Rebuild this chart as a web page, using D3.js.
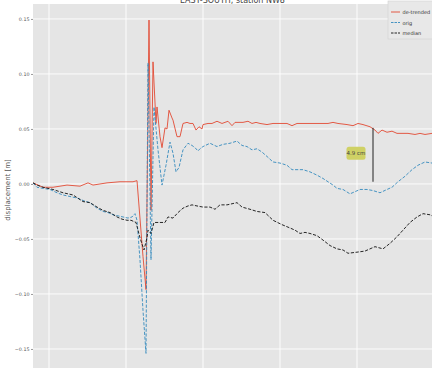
<!DOCTYPE html>
<html>
<head>
<meta charset="utf-8">
<script src="https://cdn.jsdelivr.net/npm/d3@7"></script>
<style>
  body { margin: 0; background: #fff; }
  text { font-family: "DejaVu Sans", sans-serif; }
</style>
</head>
<body>
<div id="chart"></div>
<script>
// sample index vs displacement [m]
var detrended = [
  [0, 0.001], [10, -0.003], [20, -0.003], [34, -0.001], [47, -0.002], [55, 0.001],
  [60, -0.001], [74, 0.001], [87, 0.002], [100, 0.002], [104, 0.003], [110, -0.066],
  [113, -0.096], [116, 0.149], [118, -0.024], [120, 0.111], [123, 0.055], [124, 0.070],
  [127, 0.043], [129, 0.033], [132, 0.051], [134, 0.050], [136, 0.067], [139, 0.060],
  [140, 0.058], [144, 0.043], [147, 0.043], [150, 0.055], [154, 0.056], [157, 0.055],
  [160, 0.055], [163, 0.049], [166, 0.052], [169, 0.050], [170, 0.054], [175, 0.055],
  [179, 0.055], [184, 0.057], [189, 0.055], [195, 0.057], [199, 0.053], [202, 0.056],
  [210, 0.056], [215, 0.057], [219, 0.055], [223, 0.056], [227, 0.055], [234, 0.054],
  [240, 0.055], [245, 0.055], [250, 0.055], [254, 0.055], [259, 0.053], [264, 0.055],
  [270, 0.055], [277, 0.055], [284, 0.055], [290, 0.055], [295, 0.055], [300, 0.056],
  [305, 0.055], [314, 0.054], [320, 0.053], [325, 0.055], [330, 0.054], [337, 0.052],
  [342, 0.049], [345, 0.046], [349, 0.049], [354, 0.047], [359, 0.048], [364, 0.046],
  [370, 0.046], [375, 0.046], [382, 0.045], [387, 0.046], [392, 0.045], [399, 0.046]
];

var orig = [
  [0, 0.001], [4, -0.003], [10, -0.004], [17, -0.005], [24, -0.008], [30, -0.010],
  [35, -0.011], [40, -0.012], [45, -0.013], [50, -0.015], [57, -0.017], [64, -0.022],
  [70, -0.025], [75, -0.026], [80, -0.028], [85, -0.029], [90, -0.030], [95, -0.031],
  [99, -0.030], [102, -0.027], [104, -0.033], [107, -0.069], [110, -0.115], [113, -0.154],
  [115, 0.110], [118, -0.069], [121, 0.070], [125, 0.031], [129, -0.001], [133, 0.017],
  [137, 0.038], [140, 0.028], [143, 0.011], [146, 0.015], [150, 0.031], [155, 0.037],
  [159, 0.035], [162, 0.033], [165, 0.030], [167, 0.032], [170, 0.034], [177, 0.037],
  [184, 0.034], [190, 0.036], [197, 0.037], [204, 0.039], [209, 0.035], [214, 0.034],
  [219, 0.031], [224, 0.032], [229, 0.029], [234, 0.025], [240, 0.020], [247, 0.019],
  [254, 0.017], [259, 0.013], [264, 0.013], [270, 0.013], [277, 0.011], [284, 0.008],
  [290, 0.005], [295, 0.002], [300, -0.001], [304, -0.004], [310, -0.005], [317, -0.009],
  [322, -0.007], [327, -0.005], [334, -0.005], [340, -0.006], [347, -0.008], [354, -0.005],
  [359, -0.003], [365, 0.002], [372, 0.007], [379, 0.013], [385, 0.017], [392, 0.020],
  [399, 0.019]
];

var median = [
  [0, 0.001], [4, -0.001], [10, -0.003], [20, -0.005], [30, -0.008], [40, -0.010],
  [45, -0.013], [50, -0.016], [57, -0.017], [64, -0.021], [70, -0.024], [77, -0.026],
  [84, -0.030], [89, -0.032], [94, -0.033], [98, -0.033], [103, -0.035], [107, -0.049],
  [111, -0.060], [114, -0.049], [115, -0.042], [118, -0.045], [121, -0.035], [127, -0.035],
  [132, -0.035], [135, -0.030], [140, -0.031], [145, -0.026], [150, -0.022], [155, -0.020],
  [159, -0.019], [164, -0.020], [170, -0.021], [177, -0.021], [182, -0.023], [187, -0.019],
  [194, -0.019], [199, -0.018], [204, -0.017], [209, -0.021], [217, -0.023], [224, -0.025],
  [232, -0.026], [240, -0.033], [249, -0.037], [257, -0.040], [262, -0.042], [267, -0.045],
  [272, -0.044], [277, -0.045], [284, -0.047], [290, -0.051], [297, -0.056], [304, -0.059],
  [310, -0.060], [315, -0.063], [324, -0.062], [332, -0.061], [337, -0.059], [342, -0.057],
  [350, -0.059], [357, -0.054], [364, -0.048], [370, -0.042], [377, -0.035], [384, -0.030],
  [390, -0.027], [397, -0.028], [399, -0.029]
];

var seriesNames = ["de-trended", "orig", "median"];
var yTicks = [-0.15, -0.10, -0.05, 0.00, 0.05, 0.10, 0.15];
var xTicks = [16, 93, 170, 247, 324];

// offset annotation between the two curves
var annot = { x: 340, top: 0.051, bottom: 0.002, labelX: 323, labelY: 0.028, text: "4.9 cm" };

var width = 432, height = 368;
var margins = { top: 4, right: 0, bottom: 0, left: 33 };
var colours = ["#E24A33", "#348ABD", "#111111"];
var dashes = [null, "3.2,1.6", "3.2,1.6"];

var svg = d3.select("#chart").append("svg")
  .attr("width", width)
  .attr("height", height);

var scaleX = d3.scaleLinear().domain([0, 400]).range([margins.left, 433]);
var scaleY = d3.scaleLinear().domain([-0.1673, 0.1636]).range([368, 4]);

// background
svg.append("rect")
  .attr("x", margins.left)
  .attr("y", margins.top)
  .attr("width", width - margins.left)
  .attr("height", height - margins.top)
  .attr("fill", "#E5E5E5");

svg.append("defs").append("clipPath").attr("id", "clip")
  .append("rect")
  .attr("x", margins.left)
  .attr("y", margins.top)
  .attr("width", width - margins.left)
  .attr("height", height - margins.top);

// grid
svg.append("g").selectAll("line.hgrid")
  .data(yTicks).enter().append("line")
  .attr("x1", margins.left).attr("x2", width)
  .attr("y1", function (d) { return scaleY(d); })
  .attr("y2", function (d) { return scaleY(d); })
  .attr("stroke", "#fff").attr("stroke-width", 0.9);

svg.append("g").selectAll("line.vgrid")
  .data(xTicks).enter().append("line")
  .attr("y1", margins.top).attr("y2", height)
  .attr("x1", function (d) { return scaleX(d); })
  .attr("x2", function (d) { return scaleX(d); })
  .attr("stroke", "#fff").attr("stroke-width", 0.9);

// y axis
var yAxis = svg.append("g")
  .attr("transform", "translate(" + margins.left + ",0)")
  .call(d3.axisLeft(scaleY).tickValues(yTicks).tickSize(2).tickPadding(1.5)
    .tickFormat(d3.format(".2f")));
yAxis.select(".domain").remove();
yAxis.selectAll("line").attr("stroke", "#555").attr("stroke-width", 0.6);
yAxis.selectAll("text")
  .attr("fill", "#555")
  .style("font-size", "4.8px")
  .text(function (d) { return d3.format(".2f")(d).replace("-", "\u2212"); });

svg.append("text")
  .attr("text-anchor", "middle")
  .attr("transform", "translate(10,190) rotate(-90)")
  .attr("fill", "#555")
  .style("font-size", "7px")
  .text("displacement [m]");

// title, mostly cut off at the top as in the source figure
svg.append("text")
  .attr("x", (margins.left + width) / 2)
  .attr("y", 3)
  .attr("text-anchor", "middle")
  .attr("fill", "#444")
  .style("font-size", "8px")
  .text("EAST-SOUTH, station NW8");

// lines
var line = d3.line()
  .x(function (d) { return scaleX(d[0]); })
  .y(function (d) { return scaleY(d[1]); });

var data = [detrended, orig, median];
svg.append("g").attr("clip-path", "url(#clip)")
  .selectAll("path.line")
  .data(data).enter().append("path")
  .attr("class", "line")
  .attr("d", line)
  .attr("fill", "none")
  .attr("stroke", function (d, i) { return colours[i]; })
  .attr("stroke-width", 0.9)
  .attr("stroke-dasharray", function (d, i) { return dashes[i]; });

// annotation
svg.append("line")
  .attr("x1", scaleX(annot.x)).attr("x2", scaleX(annot.x))
  .attr("y1", scaleY(annot.top)).attr("y2", scaleY(annot.bottom))
  .attr("stroke", "#222").attr("stroke-width", 1);

var lab = svg.append("g")
  .attr("transform", "translate(" + scaleX(annot.labelX) + "," + scaleY(annot.labelY) + ")");
lab.append("rect")
  .attr("x", -9.5).attr("y", -6.5)
  .attr("width", 19).attr("height", 13)
  .attr("rx", 2.5)
  .attr("fill", "#CFD165");
lab.append("text")
  .attr("text-anchor", "middle")
  .attr("y", 2)
  .attr("fill", "#444")
  .style("font-size", "5.5px")
  .text(annot.text);

// legend
var legend = svg.append("g").attr("transform", "translate(388,1)");
legend.append("rect")
  .attr("width", 48).attr("height", 38)
  .attr("fill", "#E8E8E8")
  .attr("stroke", "#d0d0d0").attr("stroke-width", 0.6);

var item = legend.selectAll("g.item")
  .data(seriesNames).enter().append("g")
  .attr("transform", function (d, i) { return "translate(0," + (11 + i * 10.5) + ")"; });

item.append("line")
  .attr("x1", 3).attr("x2", 12)
  .attr("stroke", function (d, i) { return colours[i]; })
  .attr("stroke-width", 0.9)
  .attr("stroke-dasharray", function (d, i) { return dashes[i] ? "2.5,1" : null; });

item.append("text")
  .attr("x", 14.5).attr("y", 2)
  .attr("fill", "#333")
  .style("font-size", "5px")
  .text(function (d) { return d; });
</script>
</body>
</html>
